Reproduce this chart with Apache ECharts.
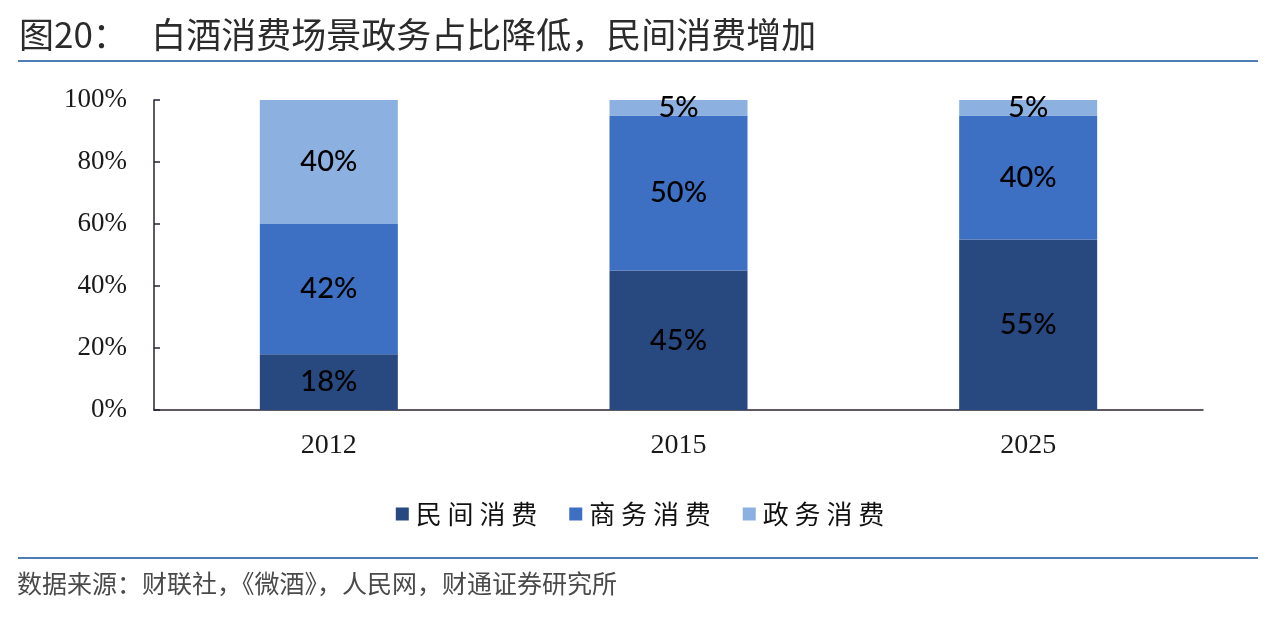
<!DOCTYPE html>
<html><head><meta charset="utf-8">
<script src="https://cdn.jsdelivr.net/npm/echarts@6/dist/echarts.min.js"></script>
<style>html,body{margin:0;padding:0;background:#fff}#c{width:1280px;height:618px}</style>
</head><body><div id="c"></div>
<script>
const categories = ['2012', '2015', '2025'];
const seriesNames = ['民间消费', '商务消费', '政务消费'];
const minjian = [18, 45, 55];
const shangwu = [42, 50, 40];
const zhengwu = [40, 5, 5];
const colors = ['#27497f', '#3d6fc2', '#8cb1e1'];
const yTicks = [0, 20, 40, 60, 80, 100];

const chart = echarts.init(document.getElementById('c'));
const vals = [minjian, shangwu, zhengwu];
const cjk = '"Noto Sans CJK SC", "Noto Sans", sans-serif';
chart.setOption({
  animation: false,
  backgroundColor: '#fff',
  title: {
    text: '图20：   白酒消费场景政务占比降低，民间消费增加',
    left: 14, top: 12,
    textStyle: { fontSize: 35, fontWeight: 'normal', color: '#2b2b2b', fontFamily: cjk }
  },
  graphic: [
    { type: 'line', shape: { x1: 18, y1: 61, x2: 1258, y2: 61 }, style: { stroke: '#4d7db5', lineWidth: 2 } },
    { type: 'line', shape: { x1: 18, y1: 558, x2: 1258, y2: 558 }, style: { stroke: '#4d7db5', lineWidth: 2 } },
    { type: 'text', left: 17, top: 571, style: { text: '数据来源：财联社，《微酒》，人民网，财通证券研究所', fontSize: 25, fill: '#4a4a4a', fontFamily: cjk } }
  ],
  legend: {
    top: 496, left: 'center',
    itemWidth: 13, itemHeight: 13, itemGap: 32,
    icon: 'rect',
    formatter: n => n.split('').join(' '),
    textStyle: { fontSize: 26, color: '#111', fontFamily: cjk, padding: [0, 0, 0, 2] },
    data: seriesNames
  },
  grid: { left: 154, right: 77, top: 100, bottom: 208 },
  xAxis: {
    type: 'category', data: categories,
    axisLine: { lineStyle: { color: '#2a2230', width: 1.5 } },
    axisTick: { inside: true, length: 9, lineStyle: { color: '#2a2230', width: 1.5 } },
    axisLabel: { fontSize: 28, color: '#1a1a1a', fontFamily: '"Liberation Serif", serif', margin: 22 }
  },
  yAxis: {
    type: 'value', min: 0, max: 100, interval: 20,
    axisLine: { show: true, lineStyle: { color: '#2a2230', width: 1.5 } },
    axisTick: { show: true, inside: true, length: 6, lineStyle: { color: '#2a2230', width: 1.5 } },
    splitLine: { show: false },
    axisLabel: { fontSize: 27, color: '#1a1a1a', fontFamily: '"Liberation Serif", serif', margin: 27,
      formatter: v => yTicks.includes(v) ? v + '%' : '' }
  },
  series: seriesNames.map((n, i) => ({
    name: n, type: 'bar', stack: 'total', barWidth: 138,
    itemStyle: { color: colors[i] },
    label: { show: true, position: 'inside', formatter: p => p.value + '%',
      fontSize: 29, fontWeight: 500, color: '#000', fontFamily: 'Lato, "Open Sans", sans-serif' },
    data: vals[i]
  }))
});
</script></body></html>
